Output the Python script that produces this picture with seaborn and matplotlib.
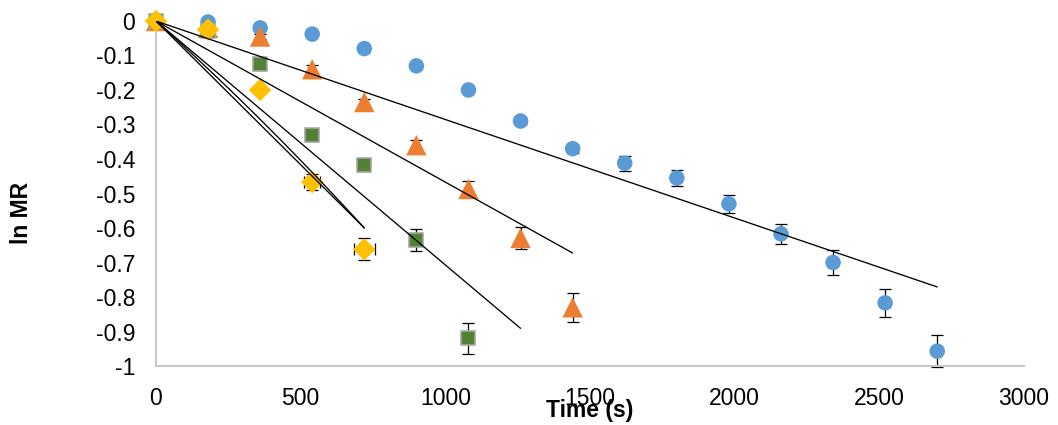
import numpy as np
import pandas as pd
import matplotlib
matplotlib.use("Agg")
import matplotlib.pyplot as plt
import seaborn as sns
from matplotlib.ticker import FuncFormatter

# ---------------- data ----------------
time_blue = [0, 180, 360, 540, 720, 900, 1080, 1260, 1440, 1620, 1800, 1980, 2160, 2340, 2520, 2700]
lnmr_blue = [0, -0.003, -0.02, -0.038, -0.08, -0.13, -0.20, -0.29, -0.37, -0.412, -0.455, -0.53, -0.617, -0.70, -0.817, -0.957]
err_blue = [0, 0, 0, 0.003, 0.004, 0.005, 0.006, 0.01, 0.012, 0.022, 0.023, 0.026, 0.03, 0.035, 0.04, 0.046]

time_orange = [0, 180, 360, 540, 720, 900, 1080, 1260, 1440]
lnmr_orange = [0, -0.02, -0.045, -0.14, -0.235, -0.36, -0.487, -0.629, -0.83]
err_orange = [0, 0.004, 0.008, 0.012, 0.01, 0.015, 0.022, 0.032, 0.042]

time_green = [0, 180, 360, 540, 720, 900, 1080]
lnmr_green = [0, -0.03, -0.125, -0.33, -0.418, -0.635, -0.92]
err_green = [0, 0.004, 0.006, 0.008, 0.012, 0.032, 0.046]

time_yellow = [0, 180, 360, 540, 720]
lnmr_yellow = [0, -0.025, -0.20, -0.467, -0.662]
err_yellow = [0, 0.004, 0.01, 0.023, 0.032]
xerr_yellow = [0, 0, 0, 27, 36]

# trend lines (through origin): slope and end time
trend_slopes = [-2.855e-4, -4.67e-4, -7.07e-4, -8.33e-4]
trend_ends = [2700, 1440, 1260, 720]
# extra curved trend for yellow series: a*t + b*t^2
yellow_poly = [-7.5e-4, -1.157e-7]

x_ticks = [0, 500, 1000, 1500, 2000, 2500, 3000]
y_ticks = [0, -0.1, -0.2, -0.3, -0.4, -0.5, -0.6, -0.7, -0.8, -0.9, -1]

# ---------------- style ----------------
sns.set_theme(style="white")
plt.rcParams['font.family'] = ['Liberation Sans', 'DejaVu Sans']
plt.rcParams['axes.unicode_minus'] = False

fig = plt.figure(figsize=(10.58, 4.25), dpi=100)
ax = fig.add_axes([0.1474, 0.1388, 0.8205, 0.8118])

series = [
    (time_blue, lnmr_blue, err_blue, None, '#5B9BD5', 'o', 125, 'none', 0),
    (time_orange, lnmr_orange, err_orange, None, '#ED7D31', '^', 215, 'none', 0),
    (time_green, lnmr_green, err_green, None, '#548235', 's', 95, '#A5A5A5', 1.2),
    (time_yellow, lnmr_yellow, err_yellow, xerr_yellow, '#FFC000', 'D', 130, 'none', 0),
]

for i, (t, y, e, xe, col, mk, s, ec, lw) in enumerate(series):
    ax.errorbar(t, y, yerr=e, xerr=xe, fmt='none', ecolor='black', elinewidth=0.9,
                capsize=4.6, capthick=0.9, zorder=2 + i * 0.1, clip_on=False)
    df = pd.DataFrame({'t': t, 'y': y})
    sns.scatterplot(data=df, x='t', y='y', ax=ax, color=col, marker=mk, s=s,
                    edgecolor=ec, linewidth=lw, zorder=3 + i * 0.1, clip_on=False, legend=False)

for slope, end in zip(trend_slopes, trend_ends):
    tt = np.linspace(0, end, 100)
    sns.lineplot(x=tt, y=slope * tt, ax=ax, color='black', linewidth=0.95, zorder=5,
                 sort=False, estimator=None)

tt = np.linspace(0, trend_ends[3], 100)
sns.lineplot(x=tt, y=yellow_poly[0] * tt + yellow_poly[1] * tt ** 2, ax=ax, color='black',
             linewidth=0.95, zorder=5, sort=False, estimator=None)

ax.set_xlim(0, 3000)
ax.set_ylim(-1, 0)
ax.set_xticks(x_ticks)
ax.set_yticks(y_ticks)

def yfmt(v, pos):
    if abs(v) < 1e-9:
        return "0"
    if abs(v + 1) < 1e-9:
        return "-1"
    return f"{v:.1f}"

ax.yaxis.set_major_formatter(FuncFormatter(yfmt))
ax.xaxis.set_major_formatter(FuncFormatter(lambda v, p: f"{int(v)}"))

ax.tick_params(axis='both', length=0, labelsize=16.5, colors='black')
ax.tick_params(axis='x', pad=15)
ax.tick_params(axis='y', pad=15)

for sp in ['top', 'right']:
    ax.spines[sp].set_visible(False)
for sp in ['left', 'bottom']:
    ax.spines[sp].set_color('#C8C8C8')
    ax.spines[sp].set_linewidth(1.5)

ax.set_xlabel('Time (s)', fontsize=16.5, fontweight='bold', color='black')
ax.set_ylabel('ln MR', fontsize=16.5, fontweight='bold', color='black')
ax.xaxis.set_label_coords(0.5, -0.097)
ax.yaxis.set_label_coords(-0.142, 0.443)
ax.grid(False)

fig.savefig('out.png', dpi=100)
